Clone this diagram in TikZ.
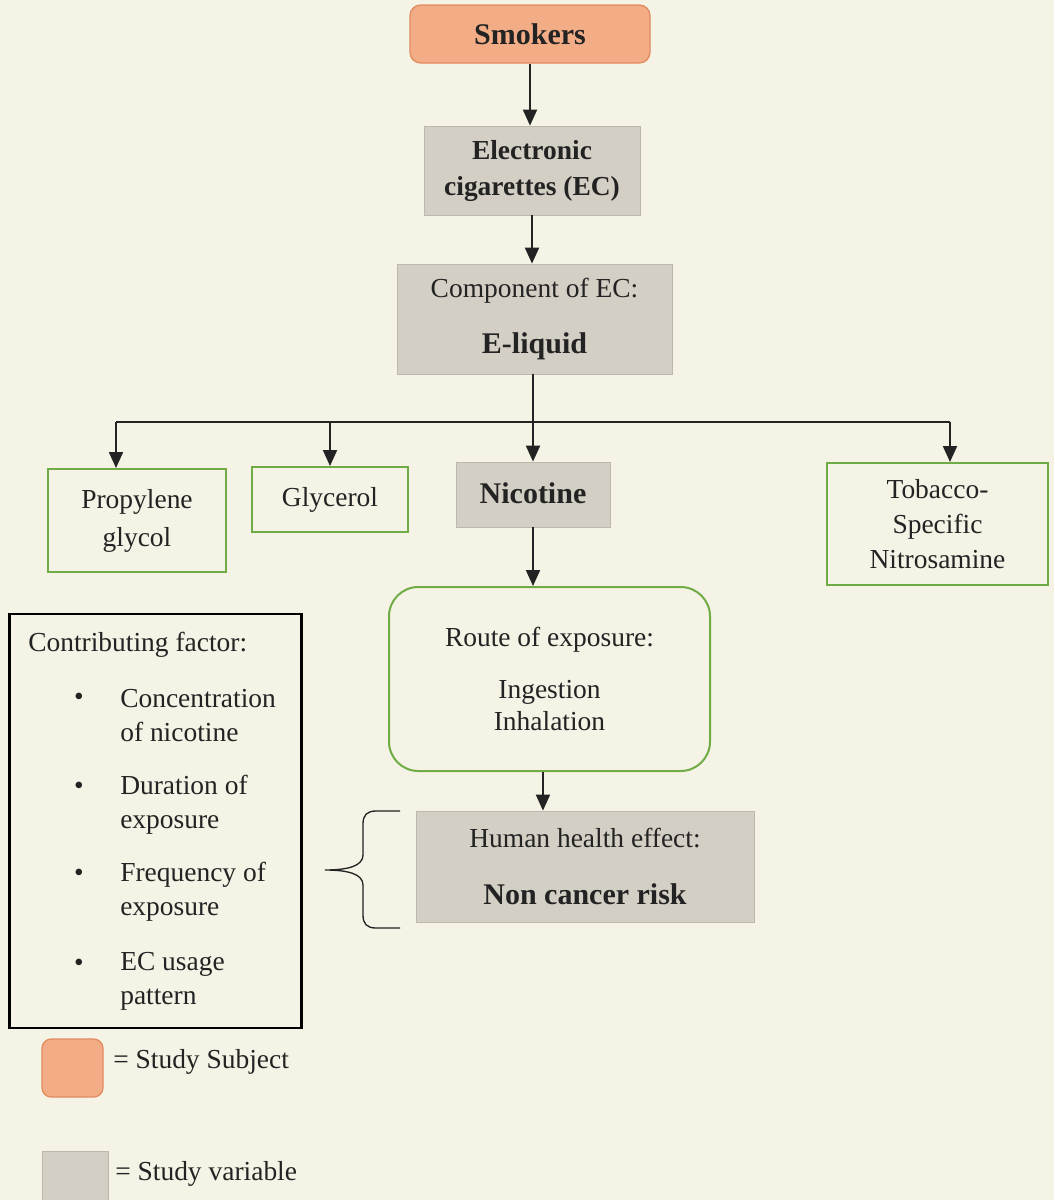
\documentclass[tikz,border=0pt]{standalone}
\usepackage{fontspec}
\setmainfont{Liberation Serif}
\usetikzlibrary{arrows.meta}
\definecolor{bgc}{RGB}{244,243,229}
\definecolor{salf}{RGB}{242,172,134}
\definecolor{sald}{RGB}{226,140,96}
\definecolor{grf}{RGB}{212,207,196}
\definecolor{grd}{RGB}{188,184,174}
\definecolor{grn}{RGB}{112,172,70}
\definecolor{ink}{RGB}{35,35,35}
\tikzset{
  txt/.style={font=\fontsize{20.6}{24}\selectfont, text=ink, inner sep=0pt},
  btxt/.style={font=\fontsize{22.5}{26}\selectfont\bfseries, text=ink, inner sep=0pt},
  subj/.style={draw=sald, fill=salf, line width=1pt, rounded corners=8pt},
  var/.style={draw=grd, fill=grf, line width=0.6pt},
  comp/.style={draw=grn, line width=1.5pt},
  arr/.style={draw=ink, line width=1.5pt, -{Triangle[length=12pt,width=10.5pt]}},
  ln/.style={draw=ink, line width=1.5pt},
}
\begin{document}
\begin{tikzpicture}[x=0.75pt,y=-0.75pt]
\fill[bgc] (0,0) rectangle (1054,1200);
\useasboundingbox (0,0) rectangle (1054,1200);

% main chain
\node[subj, btxt, minimum width=180pt, minimum height=43.5pt] (smk) at (530,34) {Smokers};
\node[var, btxt, font=\fontsize{20.6}{24}\selectfont\bfseries, align=center, minimum width=162pt, minimum height=66.75pt] (ec) at (532,170.5) {Electronic\\[3pt]cigarettes (EC)};
\node[var, txt, align=center, minimum width=206.25pt, minimum height=82.5pt] (cmp) at (534.5,319) {Component of EC:\\[18pt]{\fontsize{22.5}{26}\selectfont\bfseries E-liquid}};

\node[comp, txt, align=center, minimum width=133.5pt, minimum height=77.25pt] (prop) at (137,520.5) {Propylene\\[4.5pt]glycol};
\node[comp, txt, minimum width=117pt, minimum height=48.75pt] (gly) at (330,499.5) {Glycerol};
\node[var, btxt, minimum width=115.5pt, minimum height=48.75pt] (nic) at (533,494.5) {\raisebox{2pt}{Nicotine}};
\node[comp, txt, align=center, minimum width=165.75pt, minimum height=91.5pt] (tob) at (937.5,524) {Tobacco-\\[2.25pt]Specific\\[2.25pt]Nitrosamine};

\node[comp, txt, align=center, rounded corners=22pt, minimum width=240.75pt, minimum height=138pt] (route) at (549.5,679) {Route of exposure:\\[15pt]Ingestion\\Inhalation};
\node[var, txt, align=center, minimum width=253.5pt, minimum height=83.25pt] (hum) at (585,866.5) {Human health effect:\\[19pt]{\fontsize{22.5}{26}\selectfont\bfseries Non cancer risk}};

% connectors
\draw[arr] (smk.south) -- (smk.south |- ec.north);
\draw[arr] (ec.south) -- (ec.south |- cmp.north);
\coordinate (bl) at (116,422);
\coordinate (bm) at (533,422);
\coordinate (br) at (950,422);
\draw[ln] (cmp.south -| bm) -- (bm);
\draw[ln] (bl) -- (br);
\draw[arr] (bl) -- (bl |- prop.north);
\draw[arr] (gly.north |- bl) -- (gly.north);
\draw[arr] (bm) -- (nic.north);
\draw[arr] (br) -- (br |- tob.north);
\draw[arr] (nic.south) -- (nic.south |- route.north);
\draw[arr] ([xshift=-4.9pt]route.south) -- ([xshift=-4.9pt]route.south |- hum.north);

% brace
\draw[draw=ink, line width=1pt] (400,811) -- (376,811) .. controls (367,811) and (363,815) .. (363,824) -- (363,855) .. controls (363,866) and (348,870) .. (325,870) .. controls (348,870) and (363,874) .. (363,885) -- (363,915) .. controls (363,924) and (367,928) .. (376,928) -- (400,928);

% contributing factor box
\node[draw=black, line width=1.6pt, minimum width=219pt, minimum height=310.5pt, inner sep=0pt] (cf) at (155.5,821) {};
\node[txt, anchor=west] (cft) at (28,645) {Contributing factor:};
\node[txt] (b1) at (79,699) {\textbullet};
\node[txt] (b2) at (79,788) {\textbullet};
\node[txt] (b3) at (79,875) {\textbullet};
\node[txt] (b4) at (79,965) {\textbullet};
\node[txt, anchor=west, align=left] (i1) at (120,716) {Concentration\\[1.5pt]of nicotine};
\node[txt, anchor=west, align=left] (i2) at (120,804.5) {Duration of\\[1.5pt]exposure};
\node[txt, anchor=west, align=left] (i3) at (120,891.5) {Frequency of\\[1.5pt]exposure};
\node[txt, anchor=west, align=left] (i4) at (120,981.5) {EC usage\\[1.5pt]pattern};

% legend
\node[subj, rounded corners=7pt, minimum width=45.75pt, minimum height=43.5pt, inner sep=0pt] (lg1) at (72.5,1068) {};
\node[txt, anchor=west] (lt1) at (113,1062) {= Study Subject};
\node[var, minimum width=49.5pt, minimum height=38pt, inner sep=0pt] (lg2) at (75,1177) {};
\node[txt, anchor=west] (lt2) at (115,1174) {= Study variable};
\end{tikzpicture}
\end{document}
